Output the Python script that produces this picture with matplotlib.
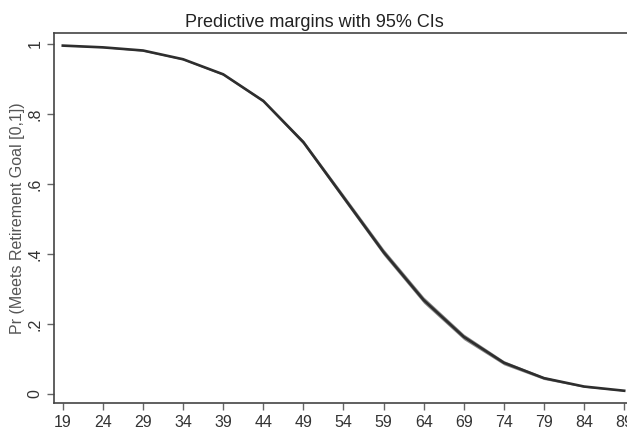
import matplotlib
matplotlib.use('Agg')

import matplotlib.pyplot as plt

# age at which predictive margin is evaluated
ages = [19, 24, 29, 34, 39, 44, 49, 54, 59, 64, 69, 74, 79, 84, 89]
margin = [0.995, 0.990, 0.981, 0.956, 0.913, 0.837, 0.719, 0.562, 0.405,
          0.268, 0.163, 0.089, 0.045, 0.021, 0.009]
ci_half = [0.001, 0.001, 0.002, 0.002, 0.003, 0.004, 0.006, 0.008, 0.009,
           0.009, 0.008, 0.006, 0.004, 0.002, 0.001]

y_ticks = [0, 0.2, 0.4, 0.6, 0.8, 1.0]
y_ticklabels = ['0', '.2', '.4', '.6', '.8', '1']

plt.rcParams['font.family'] = ['Liberation Sans', 'DejaVu Sans']

fig = plt.figure(figsize=(6.27, 4.36), dpi=100)
ax = fig.add_axes([0.0861, 0.0757, 0.935, 0.8486])

lo = [m - h for m, h in zip(margin, ci_half)]
hi = [m + h for m, h in zip(margin, ci_half)]
ax.fill_between(ages, lo, hi, color='#8a8a8a', linewidth=0)
ax.plot(ages, margin, color='#2e2e2e', linewidth=1.9)

ax.set_xlim(17.9, 91.0)
ax.set_ylim(-0.026, 1.031)
ax.set_xticks(ages)
ax.set_yticks(y_ticks)
ax.set_yticklabels(y_ticklabels, rotation=90, va='center')
ax.tick_params(axis='both', colors='#666666', labelcolor='#333333',
               labelsize=11.5, length=5, width=1, direction='out')
ax.tick_params(axis='y', pad=3)

for side in ['left', 'bottom', 'top']:
    ax.spines[side].set_color('#444444')
    ax.spines[side].set_linewidth(1.2)
ax.spines['right'].set_visible(False)

ax.set_ylabel('Pr (Meets Retirement Goal [0,1])', color='#555555', fontsize=11.5)
ax.yaxis.set_label_coords(-0.049, 0.5)
# the plot region runs off the right edge, so centre the title on the visible part
ax.set_title('Predictive margins with 95% CIs', fontsize=13, color='#222222',
             pad=4, x=0.445)

fig.savefig('out.png', dpi=100)
